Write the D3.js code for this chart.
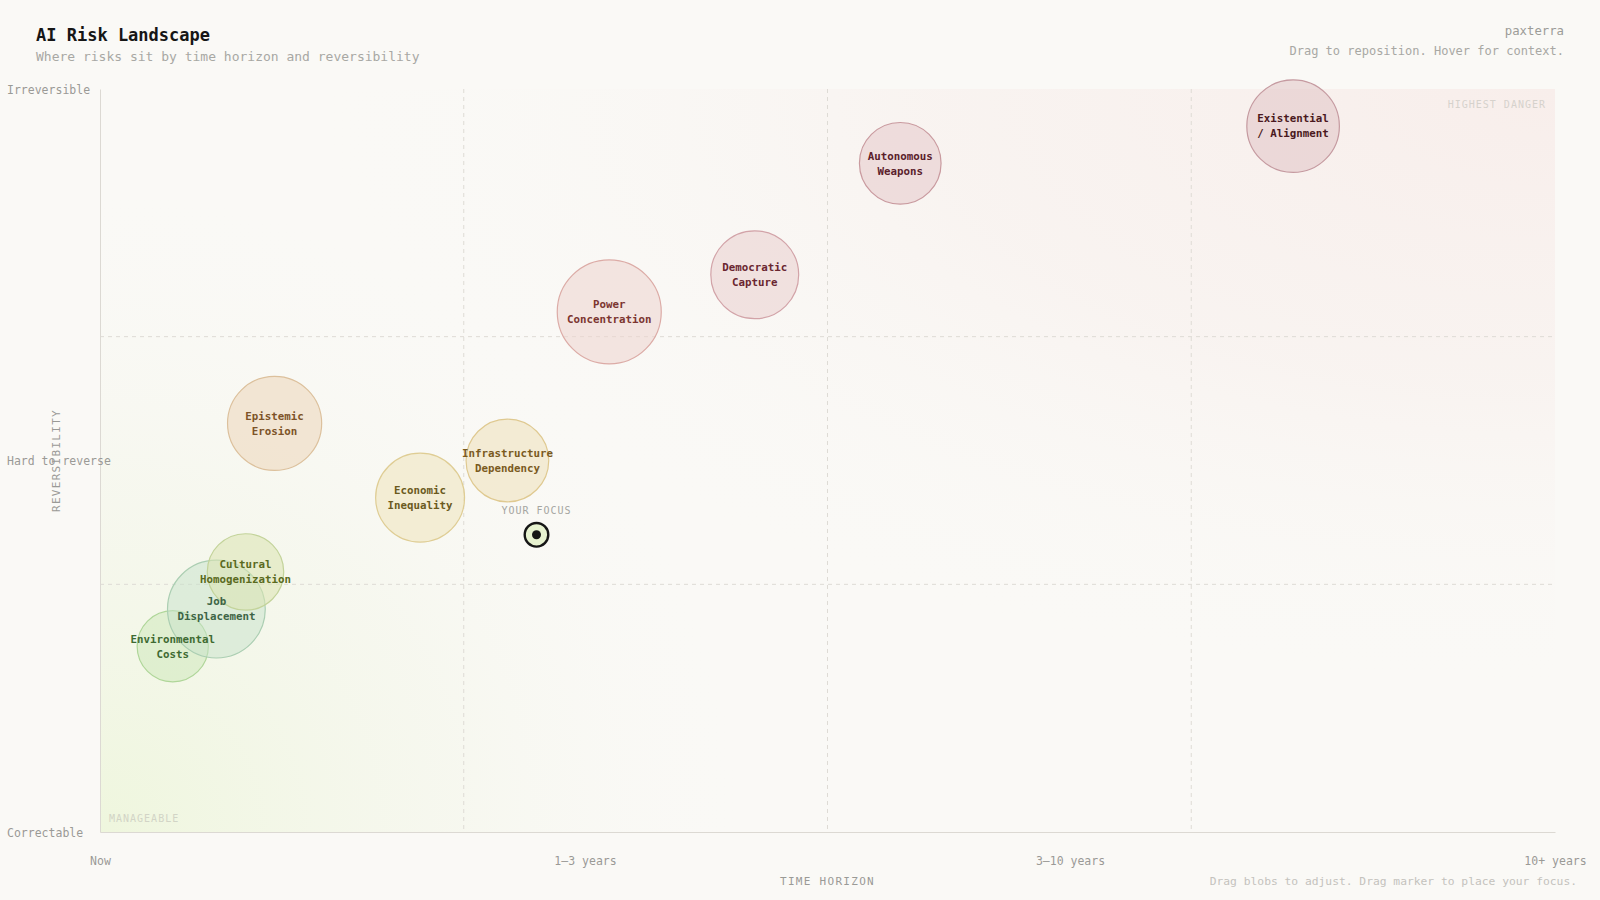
<!DOCTYPE html>
<html>
<head>
<meta charset="utf-8">
<script src="https://cdn.jsdelivr.net/npm/d3@7"></script>
<style>
  html, body { margin: 0; padding: 0; background: #faf9f6; }
  svg { display: block; font-family: "DejaVu Sans Mono", "Liberation Mono", monospace; }
</style>
</head>
<body>
<svg id="chart" width="1600" height="900"></svg>
<script>
// ---- data ----
const risks = ["Existential\n/ Alignment", "Autonomous\nWeapons", "Democratic\nCapture", "Power\nConcentration",
               "Epistemic\nErosion", "Infrastructure\nDependency", "Economic\nInequality",
               "Cultural\nHomogenization", "Job\nDisplacement", "Environmental\nCosts"];
const timeHorizon   = [82, 55, 45, 35, 12, 28, 22, 10, 8, 5];      // 0 = now, 100 = 10+ years
const reversibility = [95, 90, 75, 70, 55, 50, 45, 35, 30, 25];   // 0 = correctable, 100 = irreversible
const impact        = [8.9, 7.85, 8.45, 10, 9.05, 7.95, 8.55, 7.35, 9.4, 6.85];
const tone          = ["red4", "red3", "red2", "red1", "orange", "amber", "sand", "olive", "sage", "green"];
const focusPoint    = [30, 40];
const xTickValues   = [0, 33.333, 66.667, 100];
const xTickLabels   = ["Now", "1–3 years", "3–10 years", "10+ years"];
const yTickValues   = [0, 50, 100];
const yTickLabels   = ["Correctable", "Hard to reverse", "Irreversible"];
const xGrid         = [25, 50, 75];
const yGrid         = [33.333, 66.667];

const palette = {
  red4:   { fill: "rgba(226,198,200,0.58)", stroke: "#c59aa0", text: "#4a1820" },
  red3:   { fill: "rgba(230,202,204,0.56)", stroke: "#c99a9f", text: "#5a202b" },
  red2:   { fill: "rgba(234,206,207,0.56)", stroke: "#d2a3a8", text: "#6a2630" },
  red1:   { fill: "rgba(238,213,207,0.56)", stroke: "#dcaba6", text: "#7c3530" },
  orange: { fill: "rgba(238,218,194,0.66)", stroke: "#dcc09c", text: "#7d5328" },
  amber:  { fill: "rgba(240,227,194,0.66)", stroke: "#dfc990", text: "#7a5a1e" },
  sand:   { fill: "rgba(240,232,198,0.68)", stroke: "#dfcd94", text: "#6b5a1e" },
  olive:  { fill: "rgba(218,228,177,0.55)", stroke: "#c3d39a", text: "#5a6a20" },
  sage:   { fill: "rgba(198,226,202,0.50)", stroke: "#abceb2", text: "#3d6446" },
  green:  { fill: "rgba(210,234,192,0.60)", stroke: "#afd699", text: "#3e6a32" }
};

// ---- layout ----
const W = 1600, H = 900;
const plot = { left: 100, right: 1555, top: 89, bottom: 832 };
const svg = d3.select("#chart");

const x = d3.scaleLinear().domain([0, 100]).range([plot.left, plot.right]);
const y = d3.scaleLinear().domain([0, 100]).range([plot.bottom, plot.top]);
const r = d3.scaleLinear().domain([0, 10]).range([0, 52]);

// gradients
const defs = svg.append("defs");
const gG = defs.append("radialGradient").attr("id", "gGreen")
  .attr("gradientUnits", "userSpaceOnUse")
  .attr("cx", plot.left).attr("cy", plot.bottom).attr("r", 650);
gG.append("stop").attr("offset", "0%").attr("stop-color", "#eef6dc").attr("stop-opacity", 0.95);
gG.append("stop").attr("offset", "55%").attr("stop-color", "#f3f6e8").attr("stop-opacity", 0.5);
gG.append("stop").attr("offset", "100%").attr("stop-color", "#faf9f6").attr("stop-opacity", 0);

const gR = defs.append("radialGradient").attr("id", "gRed")
  .attr("gradientUnits", "userSpaceOnUse")
  .attr("cx", 0).attr("cy", 0).attr("r", 1)
  .attr("gradientTransform", `translate(${plot.right},${plot.top}) scale(1250,600)`);
gR.append("stop").attr("offset", "0%").attr("stop-color", "#f8eeeb").attr("stop-opacity", 1);
gR.append("stop").attr("offset", "50%").attr("stop-color", "#f8f1ee").attr("stop-opacity", 0.7);
gR.append("stop").attr("offset", "100%").attr("stop-color", "#faf9f6").attr("stop-opacity", 0);

svg.append("rect").attr("width", W).attr("height", H).attr("fill", "#faf9f6");

const pw = plot.right - plot.left, ph = plot.bottom - plot.top;
svg.append("rect").attr("x", plot.left).attr("y", plot.top).attr("width", pw).attr("height", ph)
  .attr("fill", "url(#gRed)");
svg.append("rect").attr("x", plot.left).attr("y", plot.top).attr("width", pw).attr("height", ph)
  .attr("fill", "url(#gGreen)");

// grid
svg.append("g").selectAll("line").data(xGrid).join("line")
  .attr("x1", d => x(d)).attr("x2", d => x(d)).attr("y1", plot.top).attr("y2", plot.bottom)
  .attr("stroke", "#dedbd5").attr("stroke-dasharray", "4,4");
svg.append("g").selectAll("line").data(yGrid).join("line")
  .attr("y1", d => y(d)).attr("y2", d => y(d)).attr("x1", plot.left).attr("x2", plot.right)
  .attr("stroke", "#dedbd5").attr("stroke-dasharray", "4,4");

// axes
const xAxis = svg.append("g").attr("transform", `translate(0,${plot.bottom})`)
  .call(d3.axisBottom(x).tickValues(xTickValues).tickFormat((d, i) => xTickLabels[i]).tickSize(0).tickSizeOuter(0));
xAxis.select(".domain").attr("stroke", "#dcd9d3");
xAxis.selectAll("text").attr("y", 29).attr("dy", "0.35em")
  .attr("fill", "#9a9a96").style("font-size", "11.5px").style("font-family", "DejaVu Sans Mono");

const yAxis = svg.append("g").attr("transform", `translate(${plot.left},0)`)
  .call(d3.axisLeft(y).tickValues(yTickValues).tickFormat((d, i) => yTickLabels[i]).tickSize(0).tickSizeOuter(0));
yAxis.select(".domain").attr("stroke", "#dcd9d3");
yAxis.selectAll("text").attr("x", 7 - plot.left).attr("dy", "0.35em").attr("text-anchor", "start")
  .attr("fill", "#9a9a96").style("font-size", "11.5px").style("font-family", "DejaVu Sans Mono");

// zone labels
svg.append("text").attr("x", plot.right - 9).attr("y", 108).attr("text-anchor", "end")
  .attr("fill", "#d6d2cc").style("font-size", "10px").style("letter-spacing", "1px").text("HIGHEST DANGER");
svg.append("text").attr("x", plot.left + 9).attr("y", 822).attr("text-anchor", "start")
  .attr("fill", "#d2d4c6").style("font-size", "10px").style("letter-spacing", "1px").text("MANAGEABLE");

// axis titles
svg.append("text").attr("x", (plot.left + plot.right) / 2).attr("y", 885).attr("text-anchor", "middle")
  .attr("fill", "#9a9a96").style("font-size", "11px").style("letter-spacing", "1.3px").text("TIME HORIZON");
svg.append("text").attr("transform", `translate(60,${(plot.top + plot.bottom) / 2}) rotate(-90)`)
  .attr("text-anchor", "middle").attr("fill", "#9a9a96")
  .style("font-size", "11px").style("letter-spacing", "1.3px").text("REVERSIBILITY");

// footer hint
svg.append("text").attr("x", 1577).attr("y", 885).attr("text-anchor", "end")
  .attr("fill", "#c4c2bd").style("font-size", "11.3px").text("Drag blobs to adjust. Drag marker to place your focus.");

// header
svg.append("text").attr("x", 36).attr("y", 41).attr("fill", "#161616")
  .style("font-size", "17px").style("font-weight", "700").text("AI Risk Landscape");
svg.append("text").attr("x", 36).attr("y", 61).attr("fill", "#a8a8a4")
  .style("font-size", "13px").text("Where risks sit by time horizon and reversibility");
svg.append("text").attr("x", 1564).attr("y", 35).attr("text-anchor", "end").attr("fill", "#9c9c98")
  .style("font-size", "12.3px").text("paxterra");
svg.append("text").attr("x", 1564).attr("y", 55).attr("text-anchor", "end").attr("fill", "#a8a8a4")
  .style("font-size", "12px").text("Drag to reposition. Hover for context.");

// bubbles
const data = risks.map((name, i) => ({ name, tx: timeHorizon[i], rv: reversibility[i], imp: impact[i], tone: tone[i] }));
const drawOrder = data.slice().reverse();
const blobs = svg.append("g");
blobs.selectAll("circle").data(drawOrder).join("circle")
  .attr("cx", d => x(d.tx)).attr("cy", d => y(d.rv)).attr("r", d => r(d.imp))
  .attr("fill", d => palette[d.tone].fill).attr("stroke", d => palette[d.tone].stroke).attr("stroke-width", 1.2);

const labels = svg.append("g");
labels.selectAll("text").data(drawOrder).join("text")
  .attr("x", d => x(d.tx)).attr("y", d => y(d.rv))
  .attr("text-anchor", "middle").attr("fill", d => palette[d.tone].text)
  .style("font-size", "10.8px").style("font-weight", "600")
  .each(function (d) {
    const lines = d.name.split("\n");
    const t = d3.select(this);
    lines.forEach((ln, j) => {
      t.append("tspan").attr("x", x(d.tx))
        .attr("dy", j === 0 ? (-(lines.length - 1) * 7.5 + 3.8) + "px" : "15px").text(ln);
    });
  });

// focus marker
const fx = x(focusPoint[0]), fy = y(focusPoint[1]);
svg.append("text").attr("x", fx).attr("y", fy - 21).attr("text-anchor", "middle").attr("fill", "#a5a5a1")
  .style("font-size", "10px").style("letter-spacing", "1px").text("YOUR FOCUS");
svg.append("circle").attr("cx", fx).attr("cy", fy).attr("r", 11.8)
  .attr("fill", "#e7f2d0").attr("stroke", "#161616").attr("stroke-width", 2.4);
svg.append("circle").attr("cx", fx).attr("cy", fy).attr("r", 4.5).attr("fill", "#161616");
</script>
</body>
</html>
